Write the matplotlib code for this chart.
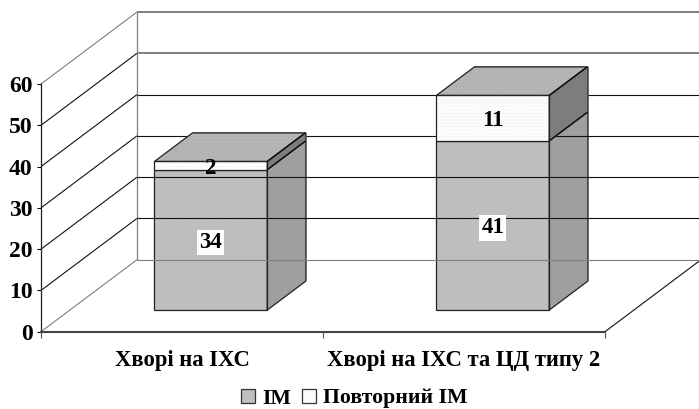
import matplotlib
matplotlib.use("Agg")
import matplotlib.pyplot as plt
from matplotlib.patches import Polygon, Patch

plt.rcParams['font.family'] = ['Liberation Serif', 'DejaVu Serif']
plt.rcParams['font.weight'] = 'bold'
plt.rcParams['hatch.linewidth'] = 0.3

categories = ["Хворі на ІХС", "Хворі на ІХС та ЦД типу 2"]
first_mi = [34, 41]
repeat_mi = [2, 11]
series_names = ["ІМ", "Повторний ІМ"]
y_ticks = [0, 10, 20, 30, 40, 50, 60]

W, H = 699, 409
# front plane of the 3d box, in pixels
LEFT, RIGHT, BOTTOM, TOP = 41, 605, 331.7, 84

fig = plt.figure(figsize=(W / 100, H / 100), dpi=100)
ax = fig.add_axes([LEFT / W, 1 - BOTTOM / H, (RIGHT - LEFT) / W, (BOTTOM - TOP) / H])
ax.set_xlim(0, 2)
ax.set_ylim(0, 60)

# oblique depth: d=1 is the back wall
DX = 96 / (RIGHT - LEFT) * 2
DY = 72 / (BOTTOM - TOP) * 60
BAR_W = 0.4
D0, D1 = 0.3, 0.7


def proj(x, y, d):
    return (x + d * DX, y + d * DY)


def line(pts, color, lw, z=1):
    ax.plot([p[0] for p in pts], [p[1] for p in pts], color=color, lw=lw, zorder=z,
            solid_capstyle='butt', clip_on=False)


def face(pts, color, z, dots=None, edge='#222222', lw=0.9):
    ax.add_patch(Polygon(pts, closed=True, facecolor=color, edgecolor='none',
                         zorder=z - 0.02, clip_on=False))
    # faint stipple between the fill and the outline
    if dots:
        ax.add_patch(Polygon(pts, closed=True, facecolor='none', edgecolor=dots, lw=0,
                             hatch='.....', zorder=z - 0.01, clip_on=False))
    ax.add_patch(Polygon(pts, closed=True, facecolor='none', edgecolor=edge, lw=lw,
                         zorder=z, clip_on=False, joinstyle='miter'))


def block(x0, x1, y0, y1, front, side, dots, z):
    face([proj(x0, y0, D0), proj(x1, y0, D0), proj(x1, y1, D0), proj(x0, y1, D0)], front, z, dots)
    face([proj(x1, y0, D0), proj(x1, y0, D1), proj(x1, y1, D1), proj(x1, y1, D0)], side, z)
    # right back edge is lighter than the rest
    line([proj(x1, y0, D1), proj(x1, y1, D1)], '#555555', 1.1, z + 0.1)


# back wall and side wall
for v in y_ticks:
    c = '#7f7f7f' if v in (0, 50, 60) else '#111111'
    side_c = '#7f7f7f' if v in (0, 60) else '#111111'
    line([proj(0, v, 0), proj(0, v, 1)], side_c, 0.8, 1)
    line([proj(0, v, 1), proj(2, v, 1)], c, 1.4 if v >= 50 else 0.8, 3)
line([proj(0, 0, 1), proj(0, 60, 1)], '#7f7f7f', 0.9, 1)
line([proj(2, 0, 0), proj(2, 0, 1)], '#111111', 0.8, 1)

# IM blocks sit under the wall lines, the upper blocks above them
for i in range(len(categories)):
    x0 = i + 0.5 - BAR_W / 2
    x1 = i + 0.5 + BAR_W / 2
    a = first_mi[i]
    b = a + repeat_mi[i]
    block(x0, x1, 0, a, '#bfbfbf', '#9f9f9f', '#b8b8b8', 2)
    block(x0, x1, a, b, '#fdfcfc', '#7d7d7d', '#efe6e6', 4)
    face([proj(x0, b, D0), proj(x1, b, D0), proj(x1, b, D1), proj(x0, b, D1)], '#b6b4b4', 4, '#a8a8a8')
    line([proj(x0, b, D1), proj(x1, b, D1)], '#555555', 1.1, 4.1)
    line([proj(x1, b, D0), proj(x1, b, D1)], '#111111', 0.9, 4.2)
    line([proj(x1, a, D0), proj(x1, a, D1)], '#111111', 0.9, 4.2)
    cx = i + 0.5 + D0 * DX
    ax.annotate(str(a), (cx, a / 2 + D0 * DY), xytext=(0, -1.8), textcoords='offset points',
                ha='center', va='center', fontsize=16.5, zorder=6,
                bbox=dict(facecolor='white', edgecolor='none', pad=1.5))
    ax.annotate(str(repeat_mi[i]), (cx, a + repeat_mi[i] / 2 + D0 * DY), xytext=(0, -2),
                textcoords='offset points', ha='center', va='center', fontsize=16.5, zorder=6)

for s in ('top', 'right'):
    ax.spines[s].set_visible(False)
ax.spines['left'].set_color('#222222')
ax.spines['left'].set_linewidth(0.9)
ax.spines['bottom'].set_color('#444444')
ax.spines['bottom'].set_linewidth(1.5)
ax.patch.set_visible(False)

ax.set_yticks(y_ticks)
ax.set_xticks([0, 1, 2])
ax.set_xticklabels([])
ax.set_xticks([i + 0.5 for i in range(len(categories))], labels=categories, minor=True)
ax.tick_params(axis='y', labelsize=17, length=3, width=0.8, pad=3)
ax.tick_params(axis='x', which='major', length=4, width=0.8, color='#555555')
ax.tick_params(axis='x', which='minor', length=0, labelsize=16.3, pad=13)

handles = [Patch(facecolor='#bfbfbf', edgecolor='#333333', lw=0.9),
           Patch(facecolor='#fdfcfc', edgecolor='#333333', lw=0.9)]
fig.legend(handles, series_names, loc='center', bbox_to_anchor=(354.5 / W, 1 - 398.5 / H), ncols=2,
           frameon=False, fontsize=15.7, handlelength=0.64, handleheight=0.64,
           handletextpad=0.32, columnspacing=0.5, borderpad=0)

fig.savefig("out.png", dpi=100)
